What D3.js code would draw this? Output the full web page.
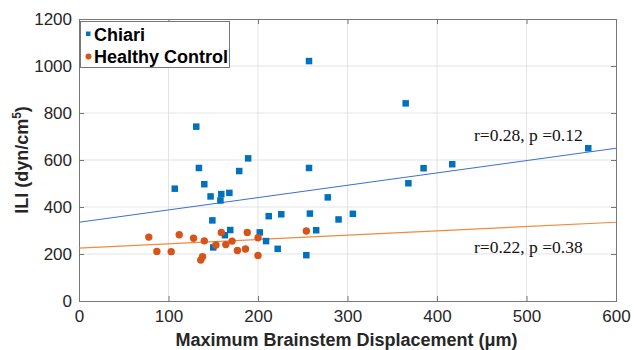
<!DOCTYPE html>
<html>
<head>
<meta charset="utf-8">
<script src="https://cdn.jsdelivr.net/npm/d3@7"></script>
<style>
  body { margin: 0; background: #fff; }
  svg { display: block; }
</style>
</head>
<body>
<div id="chart"></div>
<script>
// Chiari group (displacement um, ILI)
const chiariX = [107, 131, 134, 140, 147, 149, 150, 158, 159, 163, 168, 169, 179, 189, 202, 209,
                 212, 222, 226, 254, 257, 257, 258, 265, 278, 290, 306, 365, 368, 385, 417, 569];
const chiariY = [478, 742, 566, 497, 445, 343, 228, 428, 455, 280, 460, 302, 553, 607, 292, 255,
                 361, 222, 369, 195, 1021, 566, 372, 301, 441, 347, 371, 841, 501, 565, 582, 650];

// Healthy controls
const controlX = [78, 87, 103, 112, 128, 136, 138, 140, 153, 159, 164, 171, 177, 186, 188, 200, 200, 254];
const controlY = [272, 211, 210, 282, 267, 174, 188, 256, 238, 292, 240, 255, 215, 221, 292, 269, 194, 298];

// linear fit end points
const fitChiari = [[0, 335], [600, 650]];
const fitControl = [[0, 225], [600, 335]];

const xTicks = [0, 100, 200, 300, 400, 500, 600];
const yTicks = [0, 200, 400, 600, 800, 1000, 1200];
const seriesNames = ["Chiari", "Healthy Control"];
const statLabels = ["r=0.28, p =0.12", "r=0.22, p =0.38"];

const W = 634, H = 350;
const margin = {top: 19, right: 18, bottom: 49, left: 79};
const blue = "#0072bd", orange = "#d95319";

const svg = d3.select("#chart").append("svg")
    .attr("width", W)
    .attr("height", H);

const x = d3.scaleLinear().domain([0, 600]).range([margin.left, W - margin.right]);
const y = d3.scaleLinear().domain([0, 1200]).range([H - margin.bottom, margin.top]);

// grid
svg.append("g").selectAll("line").data(xTicks.slice(1, -1)).join("line")
    .attr("x1", d => x(d)).attr("x2", d => x(d))
    .attr("y1", y(0)).attr("y2", y(1200))
    .attr("stroke", "#e3e3e3").attr("stroke-width", 1);
svg.append("g").selectAll("line").data(yTicks.slice(1, -1)).join("line")
    .attr("x1", x(0)).attr("x2", x(600))
    .attr("y1", d => y(d)).attr("y2", d => y(d))
    .attr("stroke", "#e3e3e3").attr("stroke-width", 1);

// axes (ticks inward, box on)
const axisColor = "#777";
const fmt = d3.format("d");
const xAxis = svg.append("g")
    .attr("transform", `translate(0,${y(0)})`)
    .call(d3.axisBottom(x).tickValues(xTicks).tickFormat(fmt).tickSize(-5).tickPadding(9));
const yAxis = svg.append("g")
    .attr("transform", `translate(${x(0)},0)`)
    .call(d3.axisLeft(y).tickValues(yTicks).tickFormat(fmt).tickSize(-5).tickPadding(7));
const xTop = svg.append("g")
    .attr("transform", `translate(0,${y(1200)})`)
    .call(d3.axisTop(x).tickValues(xTicks).tickSize(-5).tickFormat(""));
const yRight = svg.append("g")
    .attr("transform", `translate(${x(600)},0)`)
    .call(d3.axisRight(y).tickValues(yTicks).tickSize(-5).tickFormat(""));

[xAxis, yAxis, xTop, yRight].forEach(g => {
    g.select(".domain").attr("stroke", axisColor);
    g.selectAll(".tick line").attr("stroke", axisColor);
    g.selectAll("text")
        .attr("fill", "#262626")
        .style("font-family", "Liberation Sans, Arial, sans-serif")
        .style("font-size", "17px");
});

// fit lines
const line = d3.line().x(d => x(d[0])).y(d => y(d[1]));
svg.append("path").datum(fitChiari)
    .attr("d", line).attr("fill", "none")
    .attr("stroke", "#3b6fd4").attr("stroke-width", 1);
svg.append("path").datum(fitControl)
    .attr("d", line).attr("fill", "none")
    .attr("stroke", "#f28a3a").attr("stroke-width", 1.2);

// chiari squares
const sq = 6.5;
svg.append("g").selectAll("rect").data(d3.range(chiariX.length)).join("rect")
    .attr("x", i => x(chiariX[i]) - sq / 2)
    .attr("y", i => y(chiariY[i]) - sq / 2)
    .attr("width", sq).attr("height", sq)
    .attr("fill", blue);

// control circles
svg.append("g").selectAll("circle").data(d3.range(controlX.length)).join("circle")
    .attr("cx", i => x(controlX[i]))
    .attr("cy", i => y(controlY[i]))
    .attr("r", 3.7)
    .attr("fill", orange);

// r / p labels
svg.selectAll(".stat").data(statLabels).join("text")
    .attr("class", "stat")
    .attr("x", 474)
    .attr("y", (d, i) => i === 0 ? 141 : 253)
    .style("font-family", "Liberation Serif, Times New Roman, serif")
    .style("font-size", "17.5px")
    .attr("fill", "#111")
    .text(d => d);

// legend
const leg = svg.append("g");
leg.append("rect")
    .attr("x", 80.5).attr("y", 21.5)
    .attr("width", 149).attr("height", 46)
    .attr("fill", "#fff").attr("stroke", "#777");
leg.append("rect")
    .attr("x", 86).attr("y", 31.5).attr("width", 4.5).attr("height", 4.5)
    .attr("fill", blue);
leg.append("circle")
    .attr("cx", 88.5).attr("cy", 56.5).attr("r", 3)
    .attr("fill", orange);
leg.selectAll("text").data(seriesNames).join("text")
    .attr("x", 94)
    .attr("y", (d, i) => 41 + i * 22)
    .style("font-family", "Liberation Sans, Arial, sans-serif")
    .style("font-size", "18px")
    .style("font-weight", "bold")
    .attr("fill", "#000")
    .text(d => d);

// axis titles
svg.append("text")
    .attr("x", (x(0) + x(600)) / 2 - 1)
    .attr("y", 346)
    .attr("text-anchor", "middle")
    .style("font-family", "Liberation Sans, Arial, sans-serif")
    .style("font-size", "18px")
    .style("font-weight", "bold")
    .attr("fill", "#262626")
    .text("Maximum Brainstem Displacement (\u03bcm)");

const yt = svg.append("text")
    .attr("transform", `translate(28,${(y(0) + y(1200)) / 2}) rotate(-90)`)
    .attr("text-anchor", "middle")
    .style("font-family", "Liberation Sans, Arial, sans-serif")
    .style("font-size", "18px")
    .style("font-weight", "bold")
    .attr("fill", "#262626");
yt.append("tspan").text("ILI (dyn/cm");
yt.append("tspan").attr("dy", -7).style("font-size", "12px").text("5");
yt.append("tspan").attr("dy", 7).text(")");
</script>
</body>
</html>
